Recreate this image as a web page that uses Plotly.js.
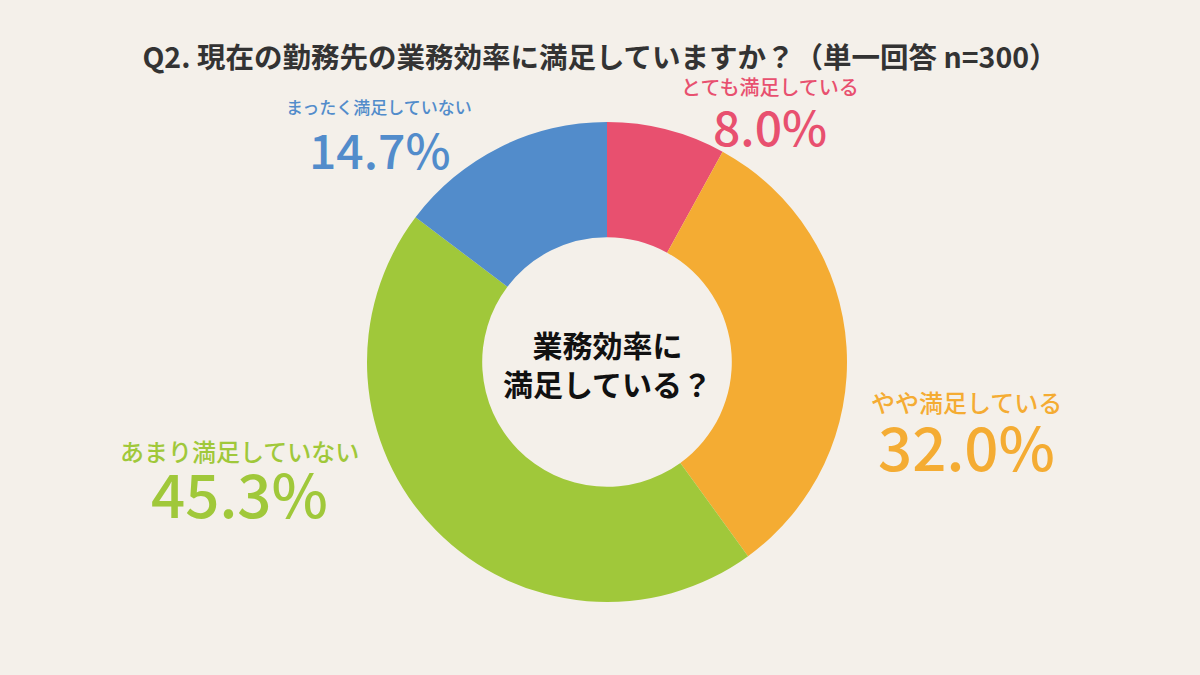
<!DOCTYPE html>
<html>
<head>
<meta charset="utf-8">
<script src="https://cdn.plot.ly/plotly-3.0.1.min.js"></script>
<style>
  html, body { margin: 0; padding: 0; background: #f4f0ea; }
  #chart { width: 1200px; height: 675px; }
</style>
</head>
<body>
<div id="chart"></div>
<script>
// answers, clockwise from 12 o'clock
const answers = ['とても満足している', 'やや満足している', 'あまり満足していない', 'まったく満足していない'];
const shares = [8.0, 32.0, 45.3, 14.7];
const colors = ['#e8506f', '#f4ac33', '#a0c83a', '#528ccb'];

const font = '"Noto Sans CJK JP", "Noto Sans", sans-serif';

// label spots in px from top-left: x, label y, percent y, label size, percent size
const spots = [
  { x: 770, y: 87, y2: 125, s: 20, b: 48 },
  { x: 966, y: 402, y2: 444, s: 24, b: 60 },
  { x: 239, y: 450, y2: 491, s: 24, b: 60 },
  { x: 379, y: 107, y2: 148, s: 17, b: 48 }
];

let annotations = [];
answers.forEach((a, i) => {
  const p = spots[i];
  annotations.push({
    xref: 'paper', yref: 'paper', x: p.x / 1200, y: 1 - p.y / 675, showarrow: false,
    xanchor: 'center', yanchor: 'middle',
    text: a, font: { family: font, size: p.s, color: colors[i], weight: 500 }
  });
  annotations.push({
    xref: 'paper', yref: 'paper', x: p.x / 1200, y: 1 - p.y2 / 675, showarrow: false,
    xanchor: 'center', yanchor: 'middle',
    text: shares[i].toFixed(1) + '%', font: { family: font, size: p.b, color: colors[i], weight: 500 }
  });
});

annotations.push({
  xref: 'paper', yref: 'paper', x: 607 / 1200, y: 1 - 363 / 675, showarrow: false,
  xanchor: 'center', yanchor: 'middle',
  text: '<b>業務効率に<br>満足している？</b>',
  font: { family: font, size: 30, color: '#111' }
});

const data = [{
  type: 'pie',
  labels: answers,
  values: shares,
  sort: false,
  direction: 'clockwise',
  rotation: 0,
  hole: 0.52,
  textinfo: 'none',
  hoverinfo: 'label+percent',
  marker: { colors: colors, line: { width: 0 } },
  domain: { x: [367 / 1200, 847 / 1200], y: [1 - 602 / 675, 1 - 122 / 675] }
}];

const layout = {
  width: 1200, height: 675,
  margin: { t: 0, b: 0, l: 0, r: 0 },
  paper_bgcolor: '#f4f0ea',
  plot_bgcolor: '#f4f0ea',
  showlegend: false,
  title: {
    text: '<b>Q2. 現在の勤務先の業務効率に満足していますか？（単一回答 n=300）</b>',
    x: 0.5, xanchor: 'center', y: 1 - 58 / 675, yanchor: 'middle',
    font: { family: font, size: 28.5, color: '#333' }
  },
  annotations: annotations
};

Plotly.newPlot('chart', data, layout, { displayModeBar: false });
</script>
</body>
</html>
